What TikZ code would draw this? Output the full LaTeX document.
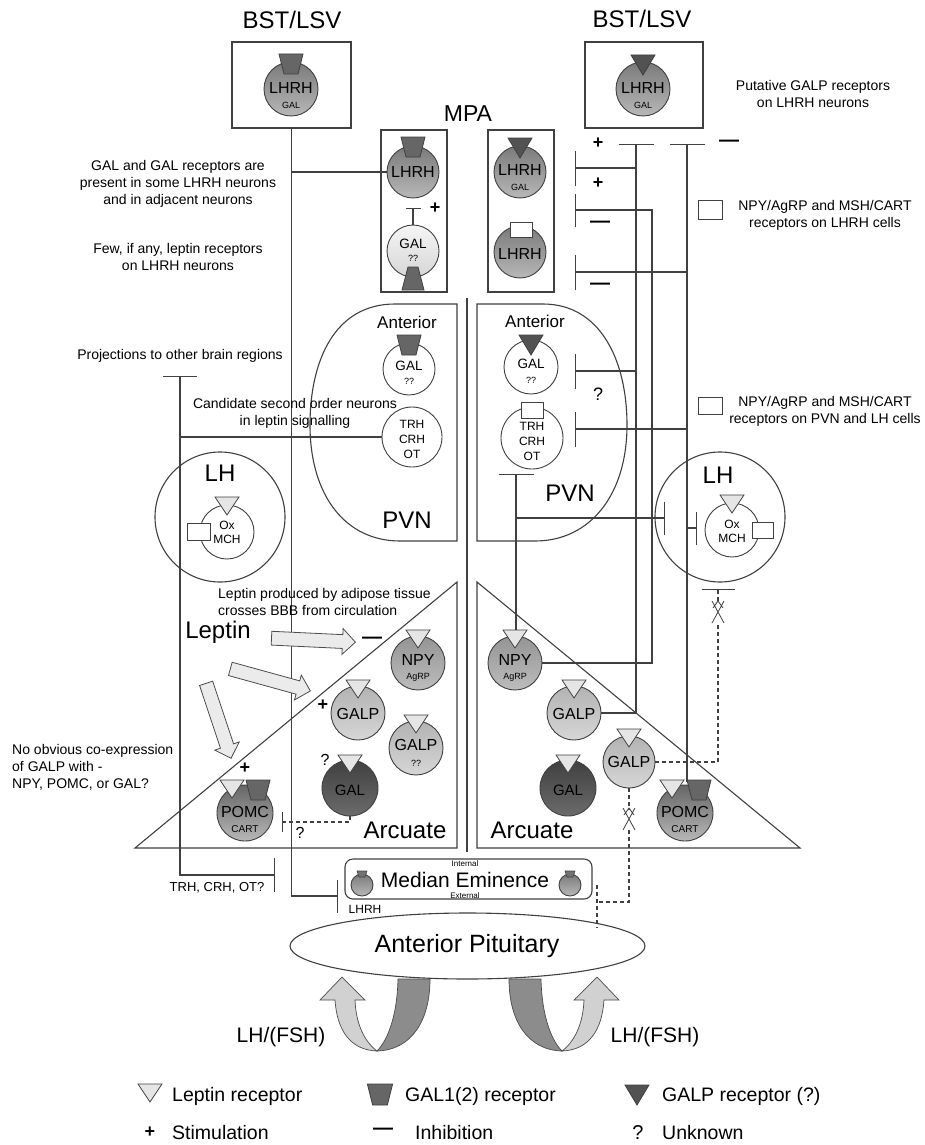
\documentclass[tikz,border=0pt]{standalone}
\usepackage{fontspec}
\setmainfont{Liberation Sans}
\usetikzlibrary{arrows.meta,shapes.arrows,shapes.geometric}
\newcommand{\fsz}[1]{\fontsize{#1}{#1}\selectfont}
\begin{document}
\begin{tikzpicture}[x=1pt,y=-1pt,
  ln/.style={draw=black!75,line width=1.1pt},
  dln/.style={ln,dash pattern=on 4pt off 3pt},
  box/.style={draw=black!75,line width=1.1pt,inner sep=0pt},
  neuron/.style={circle,draw=black!75,line width=0.9pt,inner sep=0pt,minimum size=#1},
  neuron/.default=54pt,
  lhrh/.style={top color=black!52,bottom color=black!28},
  galpale/.style={top color=black!4,bottom color=black!16},
  npyf/.style={top color=black!42,bottom color=black!26},
  galpf/.style={top color=black!30,bottom color=black!16},
  galf/.style={top color=black!75,bottom color=black!58},
  pomcf/.style={top color=black!60,bottom color=black!28},
  tx/.style={inner sep=0pt,font=\fsz{#1}},
  ann/.style={inner sep=0pt,align=center,font=\fontsize{14}{17}\selectfont},
  recbox/.style={draw=black!75,line width=0.9pt,fill=white},
  larrow/.style={single arrow,draw=black!70,line width=0.8pt,fill=black!8,inner sep=6.5pt,
    single arrow head extend=6pt,single arrow head indent=0pt},
  leprec/.pic={\draw[black!75,line width=0.8pt,fill=black!10] (-12,0) -- (12,0) -- (0,18) -- cycle;},
  galrec/.pic={\draw[black!75,line width=0.8pt,fill=black!60] (-12,0) -- (12,0) -- (7,20) -- (-7,20) -- cycle;},
  galprec/.pic={\draw[black!75,line width=0.8pt,fill=black!68] (-12,0) -- (12,0) -- (0,20) -- cycle;},
  xm/.pic={\draw[black!75,line width=0.8pt] (-6,-12) -- (6,10) (6,-12) -- (-6,10) (-5,-5) -- (0,-12) -- (5,-5);},
  bar/.style={-{Bar[width=#1]}},
]
\useasboundingbox (0,0) rectangle (924,1145);
\fill[white] (0,0) rectangle (924,1145);

% ---------- regions ----------
\node[box,minimum width=119pt,minimum height=86pt] (bstLbox) at (291.5,85) {};
\node[box,minimum width=118pt,minimum height=86pt] (bstRbox) at (644,85) {};
\node[box,minimum width=66pt,minimum height=162pt] (mpaLbox) at (414,211) {};
\node[box,minimum width=66pt,minimum height=162pt] (mpaRbox) at (521,211) {};
\draw[ln] (457,304) -- (395,304) .. controls (335,304) and (310,360) .. (310,425)
  .. controls (310,495) and (345,541) .. (400,541) -- (457,541) -- cycle;
\draw[ln] (477,304) -- (543,304) .. controls (600,304) and (627,360) .. (627,425)
  .. controls (627,495) and (590,541) .. (535,541) -- (477,541) -- cycle;
\node[circle,draw=black!75,line width=1.1pt,minimum size=130pt,inner sep=0pt] (lhL) at (220,517) {};
\node[circle,draw=black!75,line width=1.1pt,minimum size=130pt,inner sep=0pt] (lhR) at (720,517) {};
\draw[ln] (135,848) -- (457,582) -- (457,848) -- cycle;
\draw[ln] (477,582) -- (477,848) -- (800,848) -- cycle;
\coordinate (divT) at (467,298);
\coordinate (divB) at (467,852);
\draw[ln] (divT) -- (divB);
\node[box,rounded corners=8pt,minimum width=247pt,minimum height=40pt] (me) at (468.5,879) {};
\node[ellipse,draw=black!75,line width=1.1pt,minimum width=355pt,minimum height=66pt,inner sep=0pt] (pit) at (467.5,946) {};

% ---------- neurons ----------
\node[neuron,lhrh] (bstLn) at (291,89) {};
\node[neuron,lhrh] (bstRn) at (643,89) {};
\node[neuron=52pt,lhrh] (mpaL1) at (413,172) {};
\node[neuron=52pt,galpale] (mpaL2) at (413,251) {};
\node[neuron=52pt,lhrh] (mpaR1) at (520,172) {};
\node[neuron=52pt,lhrh] (mpaR2) at (520,252) {};
\node[neuron=52pt,fill=white] (pvnLgal) at (409,369) {};
\node[neuron=60pt,fill=white] (pvnLtrh) at (412,437) {};
\node[neuron=54pt,fill=white] (pvnRgal) at (531,367) {};
\node[neuron=62pt,fill=white] (pvnRtrh) at (532,438) {};
\node[neuron,fill=white] (lhLn) at (227,532) {};
\node[neuron,fill=white] (lhRn) at (732,530) {};
\node[neuron,npyf] (npyL) at (418,663) {};
\node[neuron,galpf] (galpL1) at (358,713) {};
\node[neuron,galpf] (galpL2) at (416,748) {};
\node[neuron=56pt,galf] (galL) at (350,788) {};
\node[neuron=56pt,pomcf] (pomcL) at (245,813) {};
\node[neuron,npyf] (npyR) at (515,663) {};
\node[neuron,galpf] (galpR1) at (574,713) {};
\node[neuron=52pt,galpf] (galpR2) at (629,762) {};
\node[neuron=56pt,galf] (galR) at (568,788) {};
\node[neuron=56pt,pomcf] (pomcR) at (685,813) {};
\node[neuron=22pt,lhrh] (meL) at (362,885) {};
\node[neuron=22pt,lhrh] (meR) at (570,885) {};

% ---------- connectors: left ----------
\coordinate (eT) at (338,896);
\coordinate (eJ) at (291.5,172);
\draw[ln,bar=33pt] (bstLbox.south) |- (eT);
\draw[ln] (eJ) -- (mpaL1.west);
\coordinate (fTop) at (180,376);
\coordinate (fBot) at (180,875);
\coordinate (fT) at (275,875);
\coordinate (fJ) at (180,437);
\draw[ln,{Bar[width=34pt]}-{Bar[width=34pt]}] (fTop) -- (fBot) -- (fT);
\draw[ln] (fJ) -- (pvnLtrh.west);
\coordinate (mT) at (413,208);
\draw[ln,bar=15pt] (mpaL2.north) -- (mT);
\coordinate (iT) at (282,822);
\draw[dln,bar=20pt] (galL.south) |- (iT);

% ---------- connectors: right ----------
\coordinate (aTop) at (636,144);
\coordinate (aJ1) at (636,168);  \coordinate (aT1) at (575,168);
\coordinate (aJ2) at (636,371);  \coordinate (aT2) at (575,371);
\draw[ln,bar=35pt] (galpR1.east) -| (aTop);
\draw[ln,bar=35pt] (aJ1) -- (aT1);
\draw[ln,bar=35pt] (aJ2) -- (aT2);
\coordinate (bC) at (652,210);  \coordinate (bT) at (575,210);
\draw[ln,bar=33pt] (npyR.east) -| (bC) -- (bT);
\coordinate (cBot) at (687,782); \coordinate (cTop) at (687,144);
\coordinate (cJ1) at (687,272);  \coordinate (cT1) at (575,272);
\coordinate (cJ2) at (687,429);  \coordinate (cT2) at (575,429);
\coordinate (cJ3) at (687,528);  \coordinate (cT3) at (697,528);
\draw[ln,bar=35pt] (cBot) -- (cTop);
\draw[ln,bar=35pt] (cJ1) -- (cT1);
\draw[ln,bar=35pt] (cJ2) -- (cT2);
\draw[ln,bar=33pt] (cJ3) -- (cT3);
\coordinate (dBot) at (516,630); \coordinate (dTop) at (516,474);
\coordinate (dJ) at (516,518);   \coordinate (dT) at (665,518);
\draw[ln,bar=35pt] (dBot) -- (dTop);
\draw[ln,bar=33pt] (dJ) -- (dT);
\coordinate (gTop) at (718,589);
\draw[dln,bar=33pt] (galpR2.east) -| (gTop);
\coordinate (hC) at (629,902); \coordinate (hL) at (597,902);
\coordinate (hU) at (597,885); \coordinate (hD) at (597,928);
\draw[dln] (galpR2.south) -- (hC) -- (hL);
\draw[dln] (hU) -- (hD);
\fill[white] (712,603) rectangle (724,623);
\pic at (718,613) {xm};
\fill[white] (623,810) rectangle (635,830);
\pic at (629,820) {xm};

% ---------- receptors ----------
\pic at (291,54) {galrec};
\pic at (643,55) {galprec};
\pic at (413,137) {galrec};
\draw[black!75,line width=0.8pt,fill=black!60] (408,267) -- (418,267) -- (424,290) -- (402,290) -- cycle;
\pic at (520,138) {galprec};
\draw[recbox] (510,222) rectangle (532,237);
\pic at (409,335) {galrec};
\pic at (531,335) {galprec};
\draw[recbox] (521,402) rectangle (543,418);
\pic at (227,497) {leprec};
\draw[recbox] (187,523) rectangle (210,540);
\pic at (732,495) {leprec};
\draw[recbox] (752,522) rectangle (773,538);
\pic at (418,630) {leprec};
\pic at (358,680) {leprec};
\pic at (416,715) {leprec};
\pic at (350,755) {leprec};
\pic at (232,780) {leprec};
\pic at (258,780) {galrec};
\pic at (515,630) {leprec};
\pic at (574,680) {leprec};
\pic at (629,729) {leprec};
\pic at (568,755) {leprec};
\pic at (672,780) {leprec};
\pic at (699,780) {galrec};
\draw[black!75,line width=0.6pt,fill=black!55] (357,871) -- (367,871) -- (365,877) -- (359,877) -- cycle;
\draw[black!75,line width=0.6pt,fill=black!55] (565,871) -- (575,871) -- (573,877) -- (567,877) -- cycle;

% ---------- neuron texts ----------
\node[tx=16] (tb1) at (291,88) {LHRH};
\node[tx=9] (tb2) at (291,105) {GAL};
\node[tx=16] (tb3) at (643,88) {LHRH};
\node[tx=9] (tb4) at (643,105) {GAL};
\node[tx=16] (tm1) at (413,172) {LHRH};
\node[tx=13.5] (tm2) at (413,244) {GAL};
\node[tx=9] (tm3) at (413,258) {??};
\node[tx=16] (tm4) at (520,170) {LHRH};
\node[tx=9] (tm5) at (520,187) {GAL};
\node[tx=16] (tm6) at (520,254) {LHRH};
\node[tx=13.5] (tp1) at (409,366) {GAL};
\node[tx=9] (tp2) at (409,381) {??};
\node[tx=12] (tp3) at (412,424) {TRH};
\node[tx=12] (tp4) at (412,439) {CRH};
\node[tx=12] (tp5) at (412,454) {OT};
\node[tx=13.5] (tp6) at (531,364) {GAL};
\node[tx=9] (tp7) at (531,380) {??};
\node[tx=12] (tp8) at (532,426) {TRH};
\node[tx=12] (tp9) at (532,441) {CRH};
\node[tx=12] (tp10) at (532,456) {OT};
\node[tx=12] (tl1) at (227,525) {Ox};
\node[tx=12] (tl2) at (227,539) {MCH};
\node[tx=12] (tl3) at (732,524) {Ox};
\node[tx=12] (tl4) at (732,538) {MCH};
\node[tx=16] (ta1) at (418,660) {NPY};
\node[tx=9] (ta2) at (418,677) {AgRP};
\node[tx=16] (ta3) at (358,714) {GALP};
\node[tx=16] (ta4) at (416,745) {GALP};
\node[tx=9] (ta5) at (416,763) {??};
\node[tx=15] (ta6) at (350,790) {GAL};
\node[tx=16] (ta7) at (245,812) {POMC};
\node[tx=10] (ta8) at (245,829) {CART};
\node[tx=16] (ta9) at (515,660) {NPY};
\node[tx=9] (ta10) at (515,677) {AgRP};
\node[tx=16] (ta11) at (574,714) {GALP};
\node[tx=16] (ta12) at (629,762) {GALP};
\node[tx=15] (ta13) at (568,790) {GAL};
\node[tx=16] (ta14) at (685,812) {POMC};
\node[tx=10] (ta15) at (685,829) {CART};

% ---------- labels ----------
\node[tx=24] (bstLt) at (292,20) {BST/LSV};
\node[tx=24] (bstRt) at (642,19) {BST/LSV};
\node[tx=23] (mpaT) at (468,114) {MPA};
\node[tx=17] (antL) at (407,322) {Anterior};
\node[tx=17] (antR) at (535,321) {Anterior};
\node[tx=24] (pvnLt) at (407,520) {PVN};
\node[tx=24] (pvnRt) at (570,493) {PVN};
\node[tx=24] (lhLt) at (220,473) {LH};
\node[tx=24] (lhRt) at (718,475) {LH};
\node[tx=24] (leptT) at (218,632) {Leptin};
\node[tx=24] (arcL) at (405,830) {Arcuate};
\node[tx=24] (arcR) at (532,830) {Arcuate};
\node[tx=21] (meT) at (465,880) {Median Eminence};
\node[tx=8] (meI) at (465,864) {Internal};
\node[tx=8] (meE) at (465,896) {External};
\node[tx=25] (pitT) at (467,946) {Anterior Pituitary};
\node[tx=21] (fshL) at (281,1037) {LH/(FSH)};
\node[tx=21] (fshR) at (655,1037) {LH/(FSH)};
\node[tx=13] (trhT) at (217,888) {TRH, CRH, OT?};
\node[tx=12] (lhrhT) at (365,909) {LHRH};

\node[ann] (n1) at (813,93.5) {Putative GALP receptors\\on LHRH neurons};
\node[ann] (n2) at (178,183.5) {GAL and GAL receptors are\\present in some LHRH neurons\\and in adjacent neurons};
\node[ann] (n3) at (178,256.5) {Few, if any, leptin receptors\\on LHRH neurons};
\node[ann] (n4) at (825,215) {NPY/AgRP and MSH/CART\\receptors on LHRH cells};
\node[ann] (n5) at (825,411.5) {NPY/AgRP and MSH/CART\\receptors on PVN and LH cells};
\node[ann] (n6) at (180,356) {Projections to other brain regions};
\node[ann] (n7) at (295,413.5) {Candidate second order neurons\\in leptin signalling};
\node[ann,align=left,anchor=west] (n8) at (218,601.5) {Leptin produced by adipose tissue\\crosses BBB from circulation};
\node[ann,align=left,anchor=west] (n9) at (12,767) {No obvious co-expression\\of GALP with -\\NPY, POMC, or GAL?};
\draw[recbox] (698,200) rectangle (722,219);
\draw[recbox] (698,397) rectangle (722,414);

% ---------- signs ----------
\node[tx=18,font=\bfseries\fsz{18}] (p1) at (435,208) {+};
\node[tx=18,font=\bfseries\fsz{18}] (p2) at (598,143) {+};
\node[tx=18,font=\bfseries\fsz{18}] (p3) at (598,183) {+};
\node[tx=18,font=\bfseries\fsz{18}] (p4) at (323,705) {+};
\node[tx=18,font=\bfseries\fsz{18}] (p5) at (245,768) {+};
\node[tx=20,font=\bfseries\fsz{20}] (m1) at (729,143) {—};
\node[tx=20,font=\bfseries\fsz{20}] (m2) at (600,224) {—};
\node[tx=20,font=\bfseries\fsz{20}] (m3) at (600,286) {—};
\node[tx=20,font=\bfseries\fsz{20}] (m4) at (372,640) {—};
\node[tx=18] (q1) at (598,394) {?};
\node[tx=16] (q2) at (325,760) {?};
\node[tx=16] (q3) at (300,833) {?};

% ---------- leptin arrows ----------
\node[larrow,minimum height=84pt,rotate=-2.7] (la1) at (310,640) {};
\node[larrow,minimum height=83pt,rotate=-15.4] (la2) at (267,679) {};
\node[larrow,minimum height=79pt,rotate=-71.6] (la3) at (217.5,717.5) {};

% ---------- LH/(FSH) ribbons ----------
\begin{scope}
\fill[black!45,draw=black!70,line width=0.7pt] (398,979) .. controls (397,1020) and (386,1042) .. (377,1051)
  .. controls (412,1050) and (430,1020) .. (430,979) -- cycle;
\fill[black!18,draw=black!70,line width=0.7pt] (335,1000) -- (320,1000) -- (342,977) -- (365,1000) -- (355,1000)
  .. controls (356,1025) and (365,1042) .. (377,1051) .. controls (350,1050) and (337,1030) .. (335,1000) -- cycle;
\end{scope}
\begin{scope}[shift={(939,0)},xscale=-1]
\fill[black!45,draw=black!70,line width=0.7pt] (398,979) .. controls (397,1020) and (386,1042) .. (377,1051)
  .. controls (412,1050) and (430,1020) .. (430,979) -- cycle;
\fill[black!18,draw=black!70,line width=0.7pt] (335,1000) -- (320,1000) -- (342,977) -- (365,1000) -- (355,1000)
  .. controls (356,1025) and (365,1042) .. (377,1051) .. controls (350,1050) and (337,1030) .. (335,1000) -- cycle;
\end{scope}

% ---------- legend ----------
\pic at (150,1084) {leprec};
\node[tx=19.5,anchor=west] (lg1) at (172,1096) {Leptin receptor};
\pic[scale=1.05] at (380,1084) {galrec};
\node[tx=19.5,anchor=west] (lg2) at (405,1096) {GAL1(2) receptor};
\pic at (637,1085) {galprec};
\node[tx=19.5,anchor=west] (lg3) at (662,1096) {GALP receptor (?)};
\node[tx=18,font=\bfseries\fsz{18}] (lg4) at (150,1132) {+};
\node[tx=19.5,anchor=west] (lg5) at (172,1133) {Stimulation};
\node[tx=20,font=\bfseries\fsz{20}] (lg6) at (383,1131) {—};
\node[tx=19.5,anchor=west] (lg7) at (415,1133) {Inhibition};
\node[tx=20] (lg8) at (638,1133) {?};
\node[tx=19.5,anchor=west] (lg9) at (662,1133) {Unknown};
\end{tikzpicture}
\end{document}
